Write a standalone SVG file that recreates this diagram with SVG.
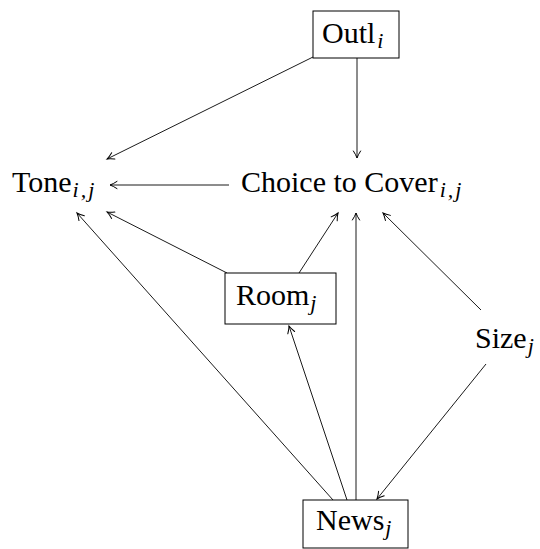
<svg xmlns="http://www.w3.org/2000/svg" width="540" height="549" viewBox="0 0 540 549">
<defs>
<marker id="arr" viewBox="-8 -5 10 10" refX="0" refY="0" markerWidth="10" markerHeight="10" markerUnits="userSpaceOnUse" orient="auto">
<path d="M-7,-3.6 Q-3,-1 0,0 Q-3,1 -7,3.6" fill="none" stroke="#000" stroke-width="1" stroke-linecap="round"/>
</marker>
<style>
.lbl{font-family:'Liberation Serif','Times New Roman',serif;font-size:30px;fill:#000}
.sub{font-size:22px;font-style:italic;letter-spacing:2px}
.box{fill:#fff;stroke:#000;stroke-width:1}
.edge{fill:none;stroke:#000;stroke-width:0.9;marker-end:url(#arr)}
</style>
</defs>
<rect width="540" height="549" fill="#fff"/>
<g id="connectors">
<line class="edge" x1="313" y1="57" x2="107" y2="159"/>
<line class="edge" x1="357" y1="58" x2="357" y2="158"/>
<line class="edge" x1="229" y1="185" x2="110" y2="185"/>
<line class="edge" x1="227" y1="273" x2="107" y2="212"/>
<line class="edge" x1="299" y1="273" x2="338" y2="213"/>
<line class="edge" x1="333" y1="500" x2="77" y2="213"/>
<line class="edge" x1="347" y1="500" x2="289" y2="326"/>
<line class="edge" x1="356" y1="500" x2="356" y2="213"/>
<line class="edge" x1="481" y1="310" x2="383" y2="213"/>
<line class="edge" x1="486" y1="364" x2="377" y2="499"/>
</g>
<g id="outl">
<rect class="box" x="313" y="11" width="86" height="47"/>
<text class="lbl" x="322" y="43">Outl<tspan class="sub" dx="2" dy="5">i</tspan></text>
</g>
<g id="tone">
<text class="lbl" x="12" y="192">Tone<tspan class="sub" dx="1" dy="5">i,j</tspan></text>
</g>
<g id="choice">
<text class="lbl" x="241" y="192">Choice to Cover<tspan class="sub" dx="2" dy="5">i,j</tspan></text>
</g>
<g id="room">
<rect class="box" x="225" y="273" width="111" height="51"/>
<text class="lbl" x="236" y="305">Room<tspan class="sub" dx="1" dy="5">j</tspan></text>
</g>
<g id="size">
<text class="lbl" x="475" y="348">Size<tspan class="sub" dx="1" dy="5">j</tspan></text>
</g>
<g id="news">
<rect class="box" x="303" y="500" width="105" height="48"/>
<text class="lbl" x="316" y="530">News<tspan class="sub" dx="1" dy="5">j</tspan></text>
</g>
</svg>
